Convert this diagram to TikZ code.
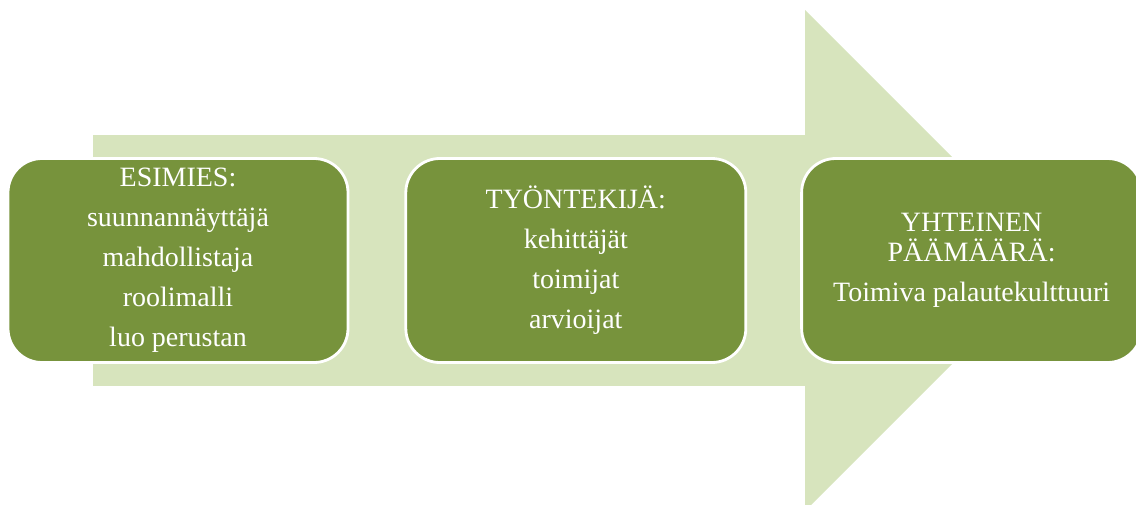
\documentclass[tikz,border=0pt]{standalone}
\usepackage{fontspec}
\setmainfont{Liberation Serif}
\usepackage{tikz}
\usetikzlibrary{positioning}

\definecolor{olivedark}{HTML}{77933C}
\definecolor{olivelight}{HTML}{D7E4BD}

\begin{document}
\begin{tikzpicture}[
    stage/.style={rectangle, rounded corners=0.85cm, draw=white, line width=2pt,
        fill=olivedark, text=white, minimum width=8.5cm, minimum height=5.1cm,
        align=center, font=\fontsize{19.9}{28.5}\selectfont},
    bigarrow/.style={fill=olivelight, draw=none},
]

% ---- Layout ----
\def\ymid{6.0875}
\def\xshaft{2.325}
\def\xhead{20.125}
\def\xtip{26.39}

\path[use as bounding box] (0,0) rectangle (28.4,12.6);
\clip (0,0) rectangle (28.4,12.6);

% ---- Background arrow ----
\fill[bigarrow] (\xshaft,\ymid-3.1375) rectangle (\xhead,\ymid+3.1375);
\fill[bigarrow] (\xhead,\ymid+6.2625) -- (\xtip,\ymid) -- (\xhead,\ymid-6.2625) -- cycle;

% ---- Stages ----
\node[stage] (esimies) at (4.45,\ymid)
    {ESIMIES:\\suunnannäyttäjä\\mahdollistaja\\roolimalli\\luo perustan};
\node[stage, right=1.375cm of esimies] (tyontekija)
    {TYÖNTEKIJÄ:\\kehittäjät\\toimijat\\arvioijat};
\node[stage, right=1.325cm of tyontekija] (paamaara)
    {YHTEINEN\\[-7.2pt]PÄÄMÄÄRÄ:\\Toimiva palautekulttuuri};

\end{tikzpicture}
\end{document}
